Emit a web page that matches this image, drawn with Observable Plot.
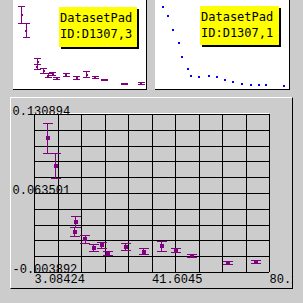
<!DOCTYPE html>
<html><head><meta charset="utf-8">
<script src="https://cdn.jsdelivr.net/npm/d3@7"></script>
<script src="https://cdn.jsdelivr.net/npm/@observablehq/plot@0.6"></script>
<style>
html,body{margin:0;padding:0;background:#cccccc;}
#canvas{position:relative;width:303px;height:303px;background:#cccccc;overflow:hidden;}
.abs{position:absolute;}
.pad{position:absolute;background:#ffffff;border-right:1px solid #000;border-bottom:1px solid #000;}
.box{position:absolute;background:#ffff00;box-shadow:2px 2px 0 #000;font-family:"DejaVu Sans Mono",monospace;font-size:12px;line-height:16px;color:#000;padding:3px 0 0 1px;box-sizing:border-box;white-space:pre;}
#bottomWrap{position:absolute;left:10px;top:97px;width:283px;height:192px;overflow:hidden;}
#bottomBorder{position:absolute;left:0;top:0;width:283px;height:192px;box-sizing:border-box;border-top:1px solid #fff;border-left:1px solid #fff;border-right:1px solid #000;border-bottom:1px solid #000;}
</style>
</head><body>
<div id="canvas">
  <div class="pad" id="padL" style="left:13px;top:0;width:133px;height:89px;"></div>
  <div class="pad" id="padR" style="left:155px;top:0;width:134px;height:89px;"></div>
  <div class="box" style="left:59px;top:7px;width:78px;height:40px;">DatasetPad
ID:D1307,3</div>
  <div class="box" style="left:200px;top:6px;width:79px;height:39px;">DatasetPad
ID:D1307,1</div>
  <div id="bottomWrap"><div id="bottomPlot" class="abs" style="left:0;top:0;"></div><div id="bottomBorder"></div></div>
</div>
<script>
// Dataset D1307,3 (error-bar points)
const xs3 = [7.35, 9.97, 16.53, 16.20, 19.80, 22.43, 25.05, 27.25, 32.92, 38.82, 44.72, 49.41, 54.65, 66.59, 75.86];
const ys3 = [0.1107, 0.0868, 0.0390, 0.0305, 0.0243, 0.0168, 0.0194, 0.0123, 0.0180, 0.0140, 0.0185, 0.0146, 0.0100, 0.0040, 0.0049];
const es3 = [0.0128, 0.0105, 0.0048, 0.0037, 0.0034, 0.0029, 0.0027, 0.0017, 0.0027, 0.0024, 0.0044, 0.0017, 0.0011, 0.0013, 0.0013];
// Dataset D1307,1 (blue dots, relative units)
const xs1 = [5.7, 9.7, 13.4, 17.2, 20.1, 23.9, 26.6, 32.8, 39.6, 46.0, 51.5, 57.5, 64.9, 71.6, 76.9, 82.8, 95.7];
const ys1 = [92.5, 82.4, 67.4, 51.7, 36.0, 22.8, 15.7, 14.6, 15.7, 14.6, 11.2, 7.9, 6.7, 5.6, 5.6, 4.5, 3.4];
// Axis ticks / labels of the main frame
const xTickValues = [3.08424, 41.6045, 80.1248];
const xTickLabels = ["3.08424", "41.6045", "80.1248"];
const yTickValues = [-0.003892, 0.063501, 0.130894];
const yTickLabels = ["-0.003892", "0.063501", "0.130894"];

const purple = "#800080";
const xDomain = [xTickValues[0], xTickValues[2]];
const yDomain = [yTickValues[0], yTickValues[2]];
const pts3 = xs3.map((x, i) => ({x, y: ys3[i], e: es3[i]}));
const pts1 = xs1.map((x, i) => ({x, y: ys1[i]}));

const capSym = w => ({draw(ctx) { ctx.moveTo(-w, 0); ctx.lineTo(w, 0); }});
const sqSym = s => ({draw(ctx) { ctx.rect(-s / 2, -s / 2, s, s); }});

function errMarks(capW, sq) {
  return [
    Plot.ruleX(pts3, {x: "x", y1: d => d.y - d.e, y2: d => d.y + d.e, stroke: purple, strokeWidth: 1, shapeRendering: "crispEdges"}),
    Plot.dot(pts3, {x: "x", y: d => d.y + d.e, symbol: capSym(capW), stroke: purple, fill: "none", strokeWidth: 1, shapeRendering: "crispEdges"}),
    Plot.dot(pts3, {x: "x", y: d => d.y - d.e, symbol: capSym(capW), stroke: purple, fill: "none", strokeWidth: 1, shapeRendering: "crispEdges"}),
    Plot.dot(pts3, {x: "x", y: "y", symbol: sqSym(sq), fill: purple, stroke: "none", shapeRendering: "crispEdges"})
  ];
}

// Top-left pad
const pL = Plot.plot({
  width: 133, height: 89, margin: 0,
  style: {background: "white"},
  x: {domain: xDomain, range: [1, 135], axis: null},
  y: {domain: yDomain, range: [88.7, 1.7], axis: null},
  marks: errMarks(3.5, 2)
});
document.getElementById("padL").appendChild(pL);

// Top-right pad
const pR = Plot.plot({
  width: 134, height: 89, margin: 0,
  style: {background: "white"},
  x: {domain: [0, 100], range: [0, 134], axis: null},
  y: {domain: [0, 100], range: [89, 0], axis: null},
  marks: [
    Plot.dot(pts1, {x: "x", y: "y", symbol: sqSym(2), fill: "#0000ff", stroke: "none", shapeRendering: "crispEdges"})
  ]
});
document.getElementById("padR").appendChild(pR);

// Bottom pad
const xGrid = d3.range(11).map(i => xDomain[0] + i * (xDomain[1] - xDomain[0]) / 10);
const yGrid = d3.range(11).map(i => yDomain[0] + i * (yDomain[1] - yDomain[0]) / 10);
const xLab = xTickValues.map((v, i) => ({v, t: xTickLabels[i]}));
const yLab = yTickValues.map((v, i) => ({v, t: yTickLabels[i]}));
const pB = Plot.plot({
  width: 283, height: 192,
  marginLeft: 24, marginRight: 24, marginTop: 17, marginBottom: 17,
  style: {background: "transparent", overflow: "visible"},
  x: {domain: xDomain, axis: null},
  y: {domain: yDomain, axis: null},
  marks: [
    Plot.ruleY([yDomain[1]], {x1: xDomain[0], x2: xDomain[1], dy: -1, stroke: "white", shapeRendering: "crispEdges"}),
    Plot.text(yLab, {y: "v", text: "t", frameAnchor: "left", dx: -22, textAnchor: "start", lineAnchor: "bottom", fontFamily: "Liberation Mono", fontSize: 12, fill: "black"}),
    Plot.text(xLab, {x: "v", text: "t", frameAnchor: "bottom", dy: 10, textAnchor: "start", lineAnchor: "bottom", fontFamily: "Liberation Mono", fontSize: 12, fill: "black"}),
    Plot.ruleX(xGrid, {stroke: "black", strokeWidth: 1, shapeRendering: "crispEdges"}),
    Plot.ruleY(yGrid, {stroke: "black", strokeWidth: 1, shapeRendering: "crispEdges"}),
    ...errMarks(5, 4)
  ]
});
document.getElementById("bottomPlot").appendChild(pB);
</script>
</body></html>
